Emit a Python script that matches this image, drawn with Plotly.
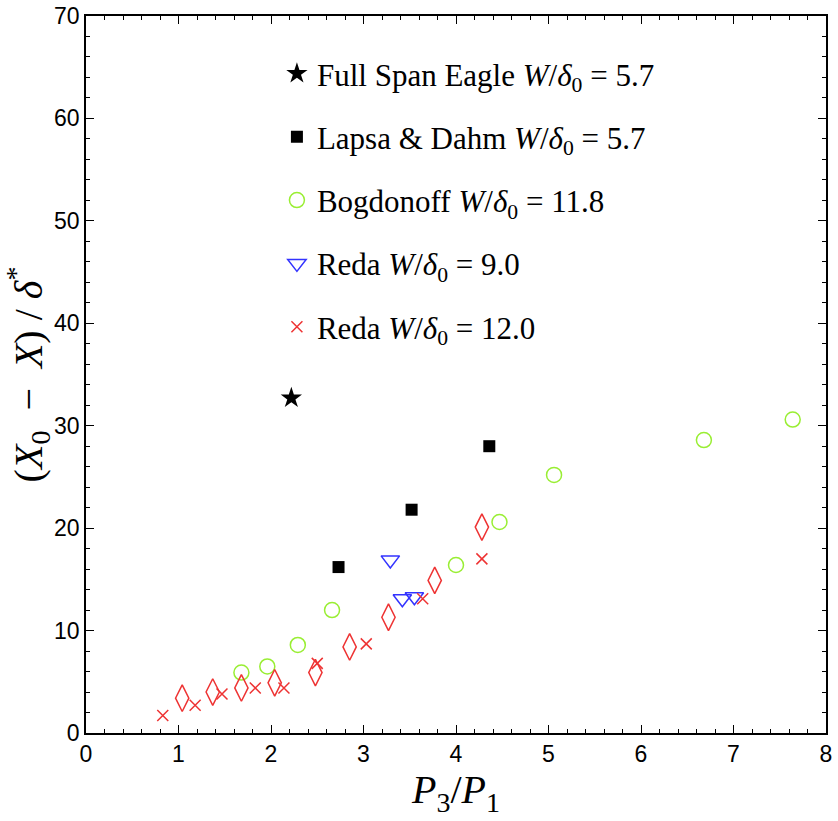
import plotly.graph_objects as go

# Pressure ratio P3/P1 and separation distance (X0 - X)/delta* for each data set
eagle_x = [2.22]
eagle_y = [32.7]

lapsa_x = [2.73, 3.52, 4.36]
lapsa_y = [16.2, 21.8, 28.0]

bogdonoff_x = [1.68, 1.96, 2.29, 2.66, 4.00, 4.47, 5.06, 6.68, 7.64]
bogdonoff_y = [5.9, 6.5, 8.6, 12.0, 16.4, 20.6, 25.2, 28.6, 30.6]

reda9_x = [3.29, 3.42, 3.55]
reda9_y = [16.9, 13.1, 13.3]

reda12_x = [0.83, 1.18, 1.47, 1.83, 2.14, 2.50, 3.03, 3.64, 4.28]
reda12_y = [1.7, 2.7, 3.8, 4.4, 4.4, 6.8, 8.7, 13.1, 17.0]

diamond_x = [1.04, 1.37, 1.68, 2.04, 2.48, 2.85, 3.27, 3.77, 4.28]
diamond_y = [3.4, 4.0, 4.4, 4.9, 5.9, 8.4, 11.3, 14.9, 20.1]

BLACK = "#000000"
GREEN = "#99ee33"
BLUE = "#3333ff"
RED = "#ee3333"

SERIF = "Liberation Serif, DejaVu Serif, serif"
SANS = "Liberation Sans, Arial, sans-serif"

LEG = "<i>W</i>/<i>δ</i><sub>0</sub>"

fig = go.Figure()

fig.add_trace(go.Scatter(
    x=eagle_x, y=eagle_y, mode="markers", legendgroup="a",
    name=f"Full Span Eagle {LEG} = 5.7",
    marker=dict(symbol="star", size=16, color=BLACK),
))
fig.add_trace(go.Scatter(
    x=lapsa_x, y=lapsa_y, mode="markers", legendgroup="b",
    name=f"Lapsa &amp; Dahm {LEG} = 5.7",
    marker=dict(symbol="square", size=12, color=BLACK),
))
fig.add_trace(go.Scatter(
    x=bogdonoff_x, y=bogdonoff_y, mode="markers", legendgroup="c",
    name=f"Bogdonoff {LEG} = 11.8",
    marker=dict(symbol="circle-open", size=15, color=GREEN, line=dict(width=1.5)),
))
fig.add_trace(go.Scatter(
    x=reda9_x, y=reda9_y, mode="markers", legendgroup="d",
    name=f"Reda {LEG} = 9.0",
    marker=dict(symbol="triangle-down-open", size=16, color=BLUE, line=dict(width=1.5)),
))
fig.add_trace(go.Scatter(
    x=reda12_x, y=reda12_y, mode="markers", legendgroup="e",
    name=f"Reda {LEG} = 12.0",
    marker=dict(symbol="x-thin-open", size=11, color=RED, line=dict(width=1.5)),
))
fig.add_trace(go.Scatter(
    x=diamond_x, y=diamond_y, mode="markers", showlegend=False,
    marker=dict(symbol="diamond-tall-open", size=19, color=RED, line=dict(width=1.5)),
))

axis_common = dict(
    showline=True, linecolor=BLACK, linewidth=1.5, mirror="allticks",
    ticks="inside", ticklen=8, tickwidth=1, tickcolor=BLACK,
    showgrid=False, zeroline=False,
    tickfont=dict(family=SANS, size=23, color=BLACK),
)

fig.update_xaxes(
    range=[0, 8], dtick=1, tick0=0,
    minor=dict(dtick=0.2, ticks="inside", ticklen=4, tickcolor=BLACK, showgrid=False),
    title=dict(text="<i>P</i><sub>3</sub>/<i>P</i><sub>1</sub>",
               font=dict(family=SERIF, size=40, color=BLACK),
               standoff=6),
    **axis_common,
)
fig.update_yaxes(
    range=[0, 70], dtick=10, tick0=0,
    minor=dict(dtick=2, ticks="inside", ticklen=4, tickcolor=BLACK, showgrid=False),
    title=dict(text="(<i>X</i><sub>0</sub>  −  <i>X</i>) / <i>δ</i><sup>*</sup>",
               font=dict(family=SERIF, size=40, color=BLACK),
               standoff=8),
    **axis_common,
)

fig.update_layout(
    width=838, height=821,
    margin=dict(l=86, r=12, t=16, b=88, autoexpand=False),
    paper_bgcolor="white", plot_bgcolor="white",
    legend=dict(
        x=0.258, y=0.957, xanchor="left", yanchor="top",
        bgcolor="rgba(0,0,0,0)", borderwidth=0,
        tracegroupgap=20,
        font=dict(family=SERIF, size=31, color=BLACK),
    ),
)

fig.write_html("out.html")
